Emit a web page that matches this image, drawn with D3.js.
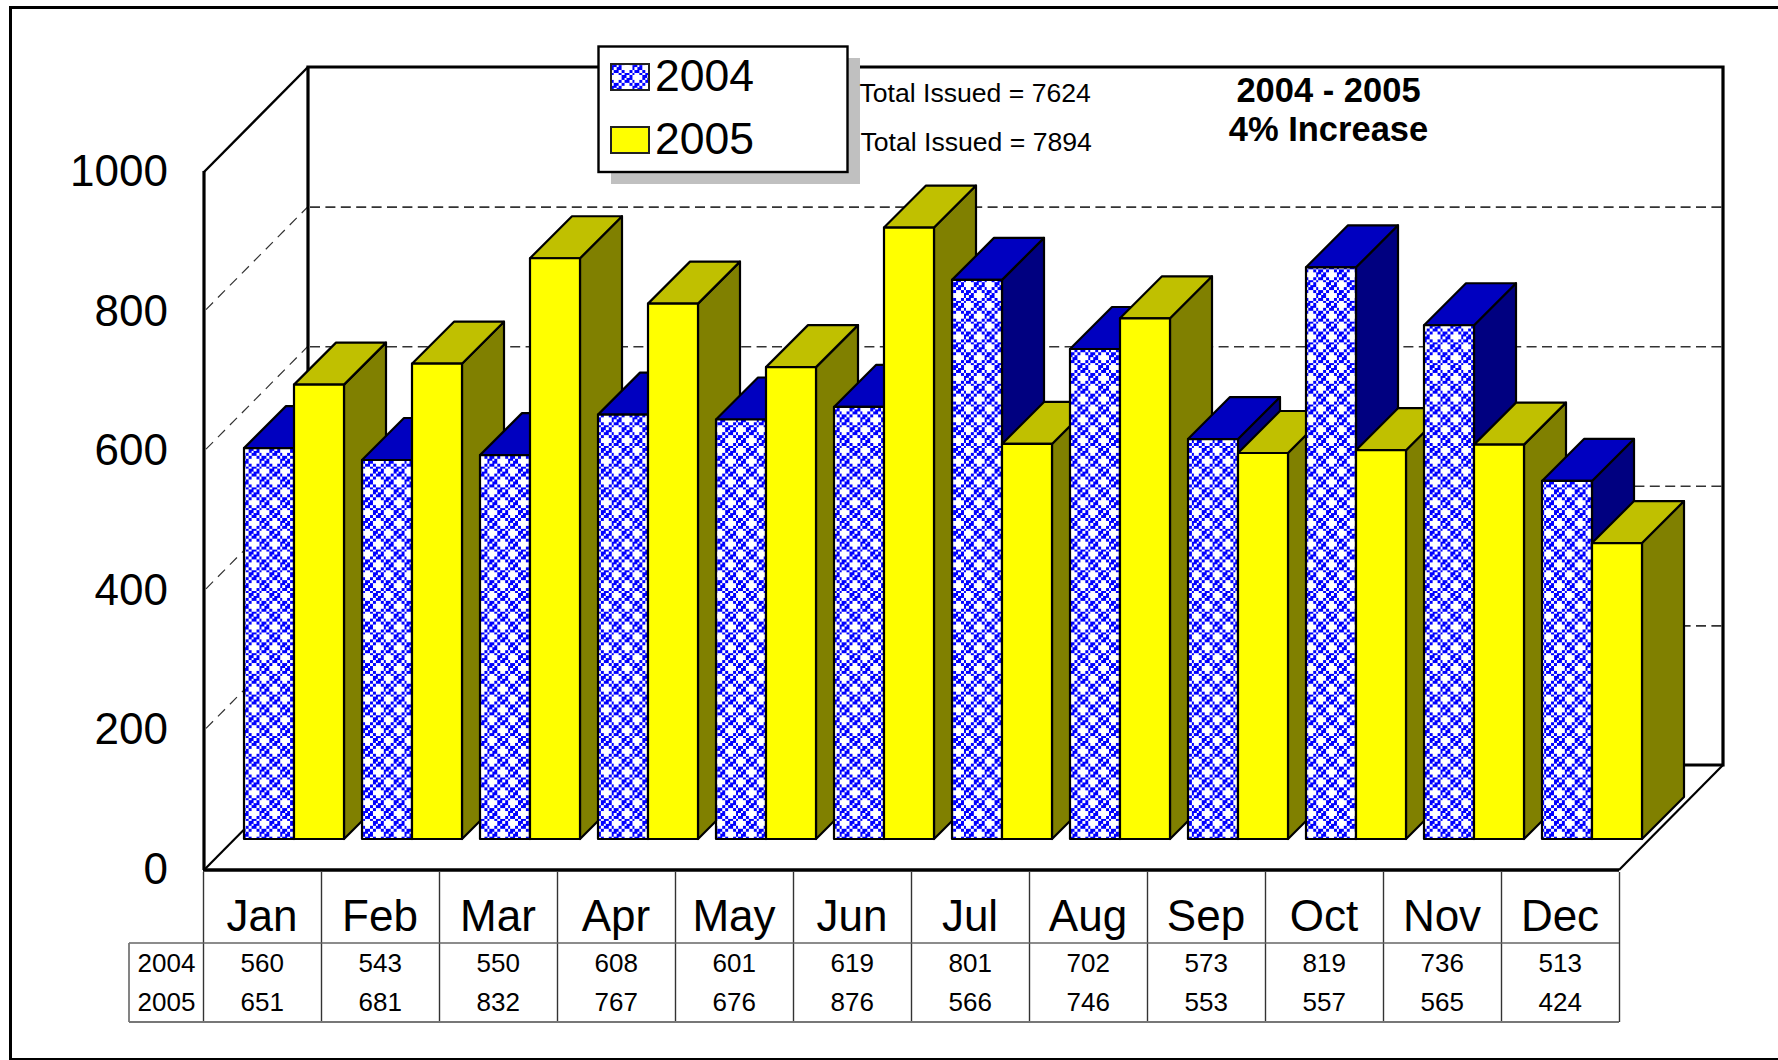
<!DOCTYPE html>
<html>
<head>
<meta charset="utf-8">
<script src="https://cdn.jsdelivr.net/npm/d3@7/dist/d3.min.js"></script>
<style>
html,body{margin:0;padding:0;background:#fff;overflow:hidden}
svg{display:block}
text{font-family:"Liberation Sans",Arial,sans-serif;fill:#000}
</style>
</head>
<body>
<svg id="chart" width="1778" height="1060"></svg>
<script>
const months = ["Jan","Feb","Mar","Apr","May","Jun","Jul","Aug","Sep","Oct","Nov","Dec"];
const values2004 = [560,543,550,608,601,619,801,702,573,819,736,513];
const values2005 = [651,681,832,767,676,876,566,746,553,557,565,424];
const seriesNames = ["2004","2005"];
const yTicks = [0,200,400,600,800,1000];
const totalLabels = ["Total Issued = 7624","Total Issued = 7894"];
const titleLines = ["2004 - 2005","4% Increase"];

const svg = d3.select("#chart");
const W = {left:204, right:1620, front:870, depth:104, depthY:105, top:172};
const x = d3.scaleBand().domain(months).range([W.left, W.right]);
const yFront = d3.scaleLinear().domain([0,1000]).range([W.front, W.top]);
const barH = v => W.front - yFront(v);
const series = d3.scalePoint().domain(seriesNames).range([0,50]);

const colors = {
  "2004":{front:"url(#check)", top:"#0000c0", side:"#000080"},
  "2005":{front:"#ffff00", top:"#c0c000", side:"#808000"}
};

// 8x8 tile of the blue/white fill
const tile = [
 "10010110",
 "00001101",
 "00001011",
 "10010110",
 "01101001",
 "11010000",
 "10110000",
 "01101001"];
const cell = 2.59;
const defs = svg.append("defs");
const pat = defs.append("pattern").attr("id","check").attr("patternUnits","userSpaceOnUse")
  .attr("width",cell*8).attr("height",cell*8);
pat.append("rect").attr("width",cell*8).attr("height",cell*8).attr("fill","#fff");
tile.forEach((row,r)=>row.split("").forEach((b,c)=>{
  if(b==="1") pat.append("rect").attr("x",c*cell).attr("y",r*cell).attr("width",cell).attr("height",cell).attr("fill","#0000ff").attr("shape-rendering","crispEdges");
}));

const line = (g,a,b,c,d,w,col,dash)=>g.append("line").attr("x1",a).attr("y1",b).attr("x2",c).attr("y2",d)
  .attr("stroke",col||"#000").attr("stroke-width",w).attr("stroke-dasharray",dash||null);

// outer frame
const frame = svg.append("g");
line(frame,10.5,7.5,1778,7.5,3);
line(frame,10.5,6,10.5,1060,3);
line(frame,9,1059,1778,1059,2);

// walls and floor
const walls = svg.append("g");
const backL = W.left+W.depth, backR = W.right+W.depth-1, backB = W.front-W.depthY;
// dashed grid
yTicks.filter(v=>v>0 && v<1000).forEach(v=>{
  const h = barH(v);
  line(walls,backL+2,backB-h+0.5,backR-1,backB-h+0.5,1.6,"#333","10 5.4");
  line(walls,W.left+2,W.front-h-2,backL,backB-h,1.2,"#333","10 7");
});
walls.append("path").attr("fill","none").attr("stroke","#000").attr("stroke-width",3.2).attr("stroke-linejoin","miter")
  .attr("d",`M${backL},${backB}V${yFront(1000)-W.depthY}H${backR}V${backB}H${backL}`);
line(walls,W.left,yFront(1000),backL,yFront(1000)-W.depthY,2.4);
line(walls,W.left,W.front,backL,backB,2.2);
line(walls,W.right-1,W.front,backR,backB,2.2);
line(walls,W.left,yFront(1000)-1,W.left,W.front,3.2);
line(walls,W.left-1,W.front,W.right-1,W.front,3.4);

// bars
const barW = 50, barD = 42, barOffX = 40, barOffY = 31;
const barRows = [];
months.forEach((m,i)=>{
  barRows.push({m,s:"2004",v:values2004[i]});
  barRows.push({m,s:"2005",v:values2005[i]});
});
const bars = svg.append("g").selectAll("g").data(barRows).join("g")
  .attr("stroke","#000").attr("stroke-width",2.2).attr("stroke-linejoin","round");
const bx = d=>x(d.m)+barOffX+series(d.s);
const by = d=>W.front-barOffY-barH(d.v);
const b0 = W.front-barOffY;
bars.append("path").attr("fill",d=>colors[d.s].side)
  .attr("d",d=>`M${bx(d)+barW},${by(d)}l${barD},${-barD}V${b0-barD}l${-barD},${barD}Z`);
bars.append("path").attr("fill",d=>colors[d.s].top)
  .attr("d",d=>`M${bx(d)},${by(d)}l${barD},${-barD}h${barW}l${-barD},${barD}Z`);
bars.append("rect").attr("fill",d=>colors[d.s].front)
  .attr("x",bx).attr("y",by).attr("width",barW).attr("height",d=>barH(d.v));

// y axis
const yAxis = d3.axisLeft(yFront).tickValues(yTicks).tickFormat(d3.format("d")).tickSize(0).tickPadding(36).offset(0);
const gy = svg.append("g").attr("transform",`translate(${W.left},0)`).call(yAxis);
gy.select(".domain").remove();
gy.attr("font-size",44).attr("font-family",null);

// category axis
const xAxis = d3.axisBottom(x).tickSize(0).tickPadding(29.8).offset(0);
const gx = svg.append("g").attr("transform",`translate(-1,${W.front})`).call(xAxis);
gx.select(".domain").remove();
gx.attr("font-size",44).attr("font-family",null);

// data table
const table = svg.append("g");
const tLeft = 129, rowTop = 943, rowBottom = 1022;
months.concat(["end"]).forEach((m,i)=>{
  const px = W.left + i*x.step() - 0.5;
  line(table,px,W.front+2,px,rowBottom,1.4,"#333");
});
line(table,tLeft,rowTop,W.right-1,rowTop,1.6,"#666");
line(table,tLeft,rowBottom,W.right-1,rowBottom,1.8,"#777");
line(table,tLeft,rowTop,tLeft,rowBottom,1.8,"#777");
const rowBase = [972,1011];
[values2004,values2005].forEach((vals,r)=>{
  table.append("text").attr("x",166.5).attr("y",rowBase[r]).attr("text-anchor","middle").attr("font-size",26).text(seriesNames[r]);
  vals.forEach((v,i)=>table.append("text").attr("x",x(months[i])+x.bandwidth()/2-0.7).attr("y",rowBase[r])
    .attr("text-anchor","middle").attr("font-size",26).text(v));
});

// legend
const legend = svg.append("g");
legend.append("rect").attr("x",611).attr("y",58).attr("width",249).attr("height",126).attr("fill","#c0c0c0");
legend.append("rect").attr("x",598.5).attr("y",46.5).attr("width",249).attr("height",125.5).attr("fill","#fff").attr("stroke","#000").attr("stroke-width",2.4);
[[64,91],[127,154]].forEach((p,i)=>{
  legend.append("rect").attr("x",611).attr("y",p[0]).attr("width",38).attr("height",26)
    .attr("fill",colors[seriesNames[i]].front).attr("stroke","#222").attr("stroke-width",2);
  legend.append("text").attr("x",655).attr("y",p[1]-0.5).attr("font-size",44.5).text(seriesNames[i]);
});

// annotations
svg.append("text").attr("x",859.5).attr("y",102).attr("font-size",26.6).text(totalLabels[0]);
svg.append("text").attr("x",860.5).attr("y",151).attr("font-size",26.6).text(totalLabels[1]);
titleLines.forEach((t,i)=>svg.append("text").attr("x",1328.5).attr("y",[102,141][i])
  .attr("text-anchor","middle").attr("font-size",34.5).attr("font-weight","bold").text(t));
</script>
</body>
</html>
